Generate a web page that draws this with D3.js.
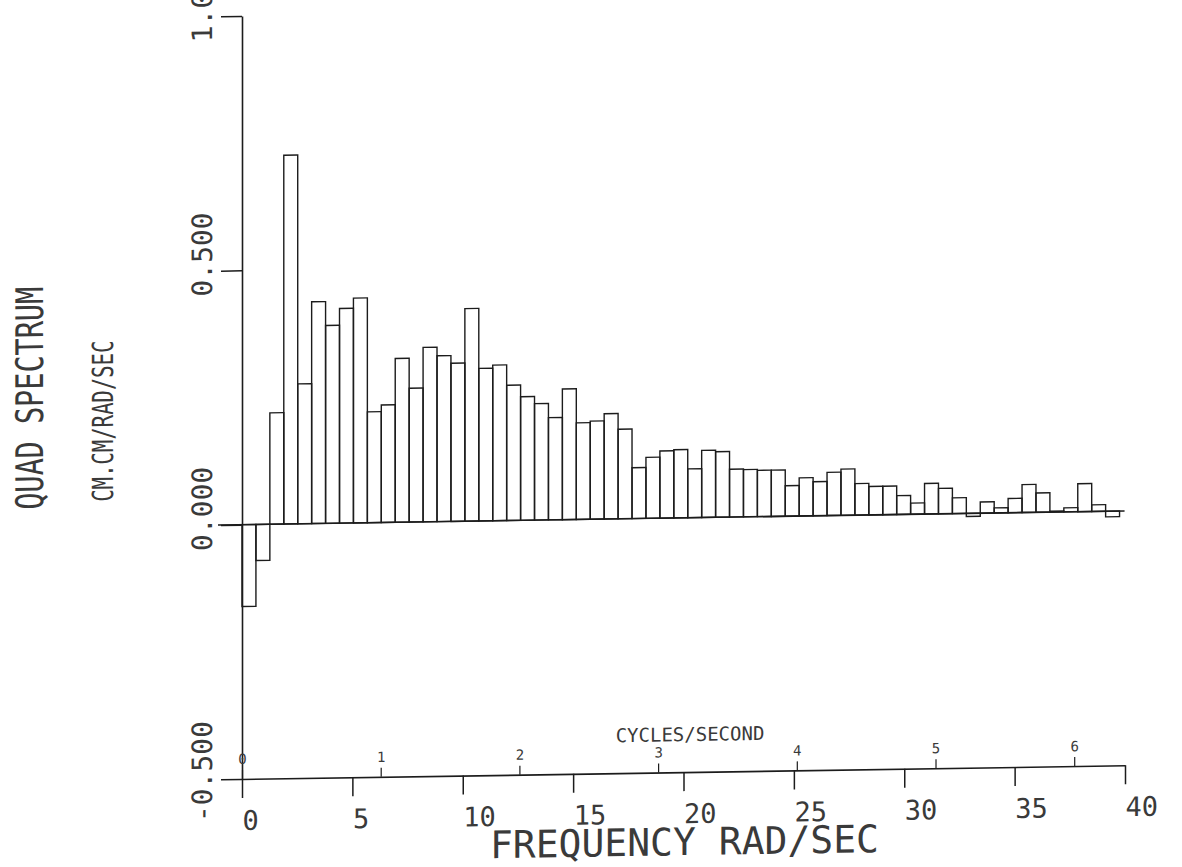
<!DOCTYPE html>
<html><head><meta charset="utf-8">
<script src="https://cdn.jsdelivr.net/npm/d3@7"></script>
<style>html,body{margin:0;padding:0;background:#fff;} svg{display:block}</style>
</head><body>
<svg id="chart" width="1182" height="867"></svg>
<script>
// ---- data ----
const binValues = [
  -0.161, -0.071, 0.219, 0.725, 0.275, 0.436, 0.389, 0.422, 0.442, 0.218,
   0.231,  0.322, 0.263, 0.343, 0.326, 0.311, 0.418, 0.300, 0.306, 0.266,
   0.243,  0.229, 0.201, 0.257, 0.190, 0.193, 0.207, 0.176, 0.100, 0.120,
   0.132,  0.134, 0.096, 0.132, 0.129, 0.094, 0.093, 0.091, 0.091, 0.060,
   0.075,  0.067, 0.085, 0.091, 0.062, 0.056, 0.056, 0.037, 0.022, 0.060,
   0.050,  0.031, -0.006, 0.022, 0.010, 0.028, 0.055, 0.038, 0.002, 0.008,
   0.055,  0.013, -0.011
];
const binWidth = 0.631;           // rad/sec per bar
const radTicks = [0, 5, 10, 15, 20, 25, 30, 35, 40];
const yTickValues = [-0.5, 0, 0.5, 1.0];
const yTickLabels = ["-0.500", "0.000", "0.500", "1.000"];
const cycleTicks = [0, 1, 2, 3, 4, 5, 6];
const yTitle = "QUAD SPECTRUM";
const yUnits = "CM.CM/RAD/SEC";
const xTitle = "FREQUENCY RAD/SEC";
const cycleTitle = "CYCLES/SECOND";

// ---- drawing ----
const INK = "#1c1c1c";
const TXT = "#3a3a3a";
const FONT = "'DejaVu Sans Mono', 'Liberation Mono', monospace";
const svg = d3.select("#chart");
const x = d3.scaleLinear().domain([0, 40]).range([242, 1125]);
const y = d3.scaleLinear().domain([-0.5, 1.0]).range([779, 16]);
const xc = d3.scaleLinear().domain([0, 40 / (2 * Math.PI)]).range(x.range());

const g = svg.append("g").attr("transform", "translate(242,0) skewY(-0.89) translate(-242,0)");

// bars
g.append("g").selectAll("rect").data(binValues).join("rect")
  .attr("x", (d, i) => x(i * binWidth))
  .attr("width", x(binWidth) - x(0))
  .attr("y", d => y(Math.max(0, d)))
  .attr("height", d => Math.abs(y(d) - y(0)))
  .attr("fill", "none").attr("stroke", INK).attr("stroke-width", 1.4);

// zero line
g.append("line")
  .attr("x1", x(0) - 24).attr("x2", x(binValues.length * binWidth) + 5)
  .attr("y1", y(0)).attr("y2", y(0))
  .attr("stroke", INK).attr("stroke-width", 1.6);

// x axis (rad/sec)
const xAxisG = g.append("g").attr("transform", `translate(0,${y(-0.5)})`)
  .call(d3.axisBottom(x).tickValues(radTicks).tickSize(19).tickSizeOuter(0).tickPadding(0).tickFormat(d3.format("d")));
xAxisG.select(".domain").attr("stroke", INK).attr("stroke-width", 1.6);
xAxisG.selectAll(".tick line").attr("stroke", INK).attr("stroke-width", 1.5);
xAxisG.selectAll(".tick text")
  .attr("font-family", FONT).attr("font-size", 27).attr("fill", TXT)
  .attr("text-anchor", "start").attr("x", 0).attr("y", 51).attr("dy", 0);

// y axis
const yAxisG = g.append("g").attr("transform", `translate(${x(0)},0)`)
  .call(d3.axisLeft(y).tickValues(yTickValues).tickSize(21).tickSizeOuter(0).tickFormat((d, i) => yTickLabels[i]));
yAxisG.select(".domain").attr("stroke", INK).attr("stroke-width", 1.6);
yAxisG.selectAll(".tick line").attr("stroke", INK).attr("stroke-width", 1.5);
const adv = 0.602 * 28;
yAxisG.selectAll(".tick text")
  .attr("font-family", FONT).attr("font-size", 28).attr("fill", TXT)
  .attr("text-anchor", "start")
  .attr("transform", "translate(-30,0) rotate(-90)")
  .attr("dy", 0).attr("y", 0)
  .attr("x", (d, i) => -(yTickLabels[i].indexOf(".") + 0.5) * adv);

// cycles/second axis (ticks upward on the same baseline)
const cAxisG = g.append("g").attr("transform", `translate(0,${y(-0.5)})`)
  .call(d3.axisTop(xc).tickValues(cycleTicks).tickSize(9).tickSizeOuter(0).tickPadding(6).tickFormat(d3.format("d")));
cAxisG.select(".domain").attr("stroke", "none");
cAxisG.selectAll(".tick line").attr("stroke", INK).attr("stroke-width", 1.2);
cAxisG.selectAll(".tick text").attr("font-family", FONT).attr("font-size", 14).attr("fill", TXT);

g.append("text").text(cycleTitle)
  .attr("x", xc(3.23)).attr("y", y(-0.5) - 31)
  .attr("text-anchor", "middle").attr("font-family", FONT).attr("font-size", 19).attr("fill", TXT);

// x title
g.append("text").text(xTitle)
  .attr("x", 490).attr("y", 862)
  .attr("font-family", FONT).attr("font-size", 38).attr("fill", TXT);

// y titles (rotated, condensed)
g.append("text").text(yTitle)
  .attr("transform", "translate(43,395) rotate(-90) scale(0.75,1)")
  .attr("text-anchor", "middle").attr("font-family", FONT).attr("font-size", 38).attr("fill", TXT);
g.append("text").text(yUnits)
  .attr("transform", "translate(113,419) rotate(-90) scale(0.71,1)")
  .attr("text-anchor", "middle").attr("font-family", FONT).attr("font-size", 29).attr("fill", TXT);
</script>
</body></html>
